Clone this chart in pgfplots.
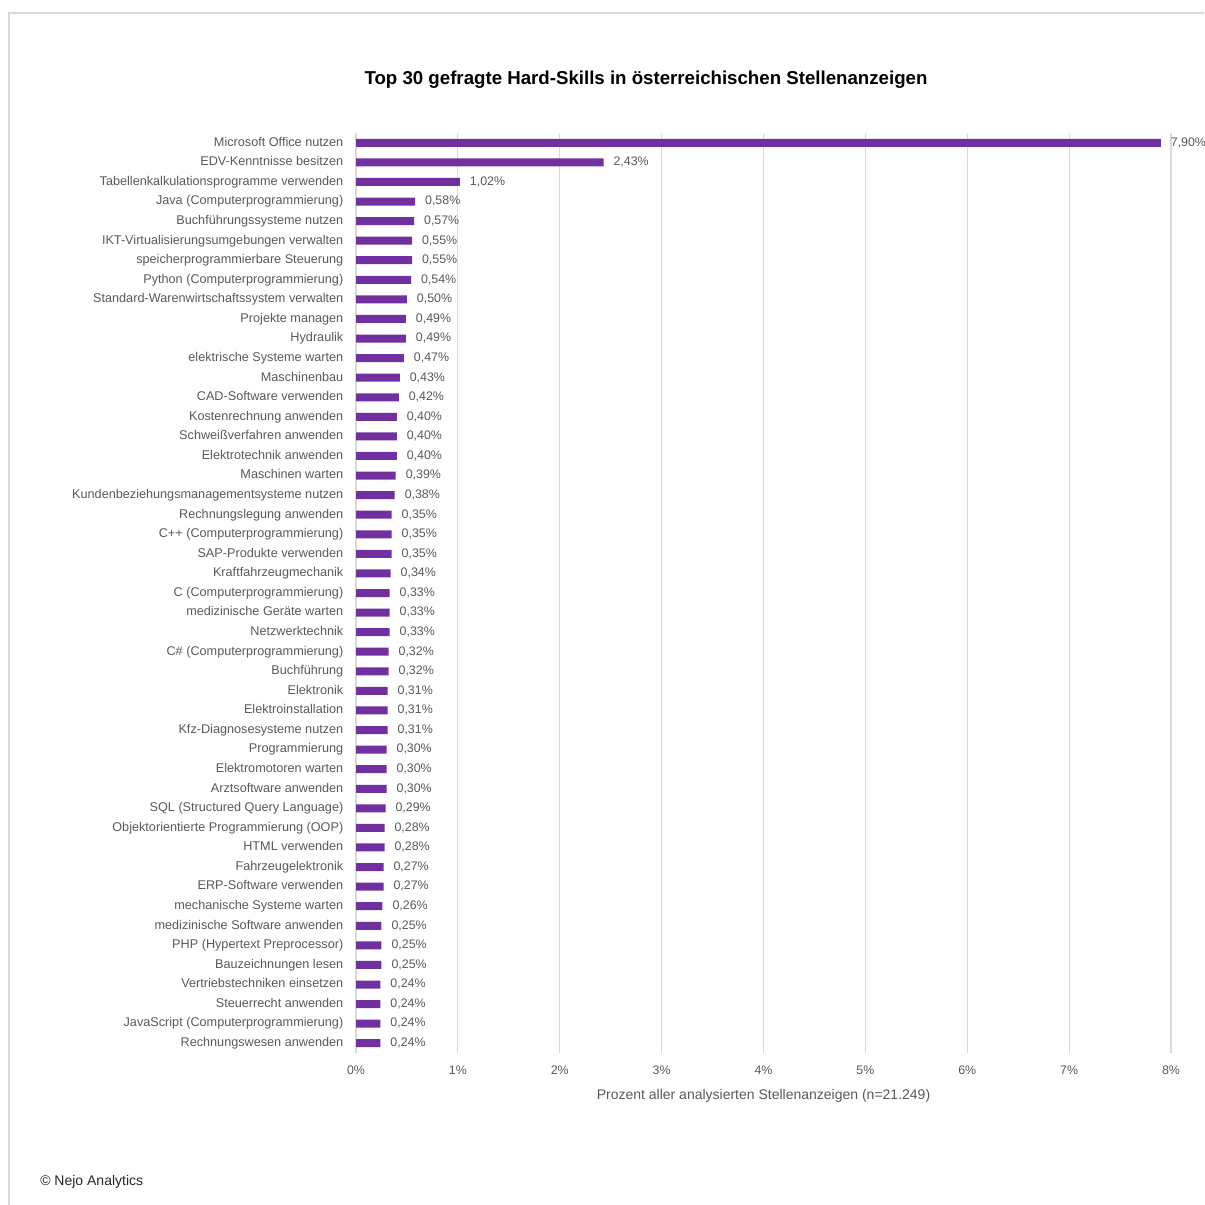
\documentclass[border=0pt]{standalone}
\usepackage{pgfplots}
\pgfplotsset{compat=1.18}
\usepackage{fontspec}
\setmainfont{Liberation Sans}
\definecolor{barc}{HTML}{7030A0}
\definecolor{txt}{HTML}{595959}
\definecolor{gridc}{HTML}{D9D9D9}
\begin{document}
\begin{tikzpicture}
\useasboundingbox (0,0) rectangle (1204*0.75pt,-1205*0.75pt);
\draw[gridc, line width=1pt] (9*0.75pt,-1205*0.75pt) -- (9*0.75pt,-13*0.75pt) -- (1204*0.75pt,-13*0.75pt);
\node[font=\bfseries\fontsize{14}{16}\selectfont, text=black] at (646*0.75pt,-80*0.75pt) {Top 30 gefragte Hard-Skills in österreichischen Stellenanzeigen};
\node[font=\fontsize{10.5}{12}\selectfont, text=black!85, anchor=west, inner sep=0pt] at (40*0.75pt,-1182*0.75pt) {© Nejo Analytics};
\begin{axis}[
  at={(356*0.75pt,-133*0.75pt)}, anchor=north west,
  scale only axis, width=611.25pt, height=690pt,
  xbar, bar width=6pt,
  xmin=0, xmax=8, ymin=-0.5, ymax=46.5, y dir=reverse,
  xtick={0,1,...,8},
  xticklabel={\pgfmathprintnumber{\tick}\%},
  xmajorgrids=true, ymajorgrids=false,
  x grid style={draw=gridc, line width=0.8pt},
  axis line style={draw=none},
  major tick length=0pt,
  ytick={0,...,46},
  yticklabels={{Microsoft Office nutzen},{EDV-Kenntnisse besitzen},{Tabellenkalkulationsprogramme verwenden},{Java (Computerprogrammierung)},{Buchführungssysteme nutzen},{IKT-Virtualisierungsumgebungen verwalten},{speicherprogrammierbare Steuerung},{Python (Computerprogrammierung)},{Standard-Warenwirtschaftssystem verwalten},{Projekte managen},{Hydraulik},{elektrische Systeme warten},{Maschinenbau},{CAD-Software verwenden},{Kostenrechnung anwenden},{Schweißverfahren anwenden},{Elektrotechnik anwenden},{Maschinen warten},{Kundenbeziehungsmanagementsysteme nutzen},{Rechnungslegung anwenden},{C++ (Computerprogrammierung)},{SAP-Produkte verwenden},{Kraftfahrzeugmechanik},{C (Computerprogrammierung)},{medizinische Geräte warten},{Netzwerktechnik},{C\# (Computerprogrammierung)},{Buchführung},{Elektronik},{Elektroinstallation},{Kfz-Diagnosesysteme nutzen},{Programmierung},{Elektromotoren warten},{Arztsoftware anwenden},{SQL (Structured Query Language)},{Objektorientierte Programmierung (OOP)},{HTML verwenden},{Fahrzeugelektronik},{ERP-Software verwenden},{mechanische Systeme warten},{medizinische Software anwenden},{PHP (Hypertext Preprocessor)},{Bauzeichnungen lesen},{Vertriebstechniken einsetzen},{Steuerrecht anwenden},{JavaScript (Computerprogrammierung)},{Rechnungswesen anwenden}},
  yticklabel style={font=\fontsize{9.5}{10}\selectfont, text=txt, xshift=-6pt, text height=7pt, text depth=2pt},
  xticklabel style={font=\fontsize{9.3}{10}\selectfont, text=txt, yshift=-6pt},
  /pgf/number format/assume math mode=true,
  xlabel={Prozent aller analysierten Stellenanzeigen (n=21.249)},
  xlabel style={font=\fontsize{10.5}{12}\selectfont, text=txt, yshift=-4.5pt},
  nodes near coords={\pgfmathprintnumber[fixed,fixed zerofill,precision=2,use comma]{\pgfplotspointmeta}\%},
  nodes near coords style={font=\fontsize{9.3}{10}\selectfont, text=txt, anchor=west, xshift=4pt, text height=7pt, text depth=2pt},
  point meta=x,
  clip=false,
]
\addplot[fill=barc, draw=none] coordinates {
(7.90,0) (2.43,1) (1.02,2) (0.58,3) (0.57,4) (0.55,5) (0.55,6) (0.54,7) (0.50,8) (0.49,9)
(0.49,10) (0.47,11) (0.43,12) (0.42,13) (0.40,14) (0.40,15) (0.40,16) (0.39,17) (0.38,18) (0.35,19)
(0.35,20) (0.35,21) (0.34,22) (0.33,23) (0.33,24) (0.33,25) (0.32,26) (0.32,27) (0.31,28) (0.31,29)
(0.31,30) (0.30,31) (0.30,32) (0.30,33) (0.29,34) (0.28,35) (0.28,36) (0.27,37) (0.27,38) (0.26,39)
(0.25,40) (0.25,41) (0.25,42) (0.24,43) (0.24,44) (0.24,45) (0.24,46)
};
\end{axis}
\end{tikzpicture}
\end{document}
